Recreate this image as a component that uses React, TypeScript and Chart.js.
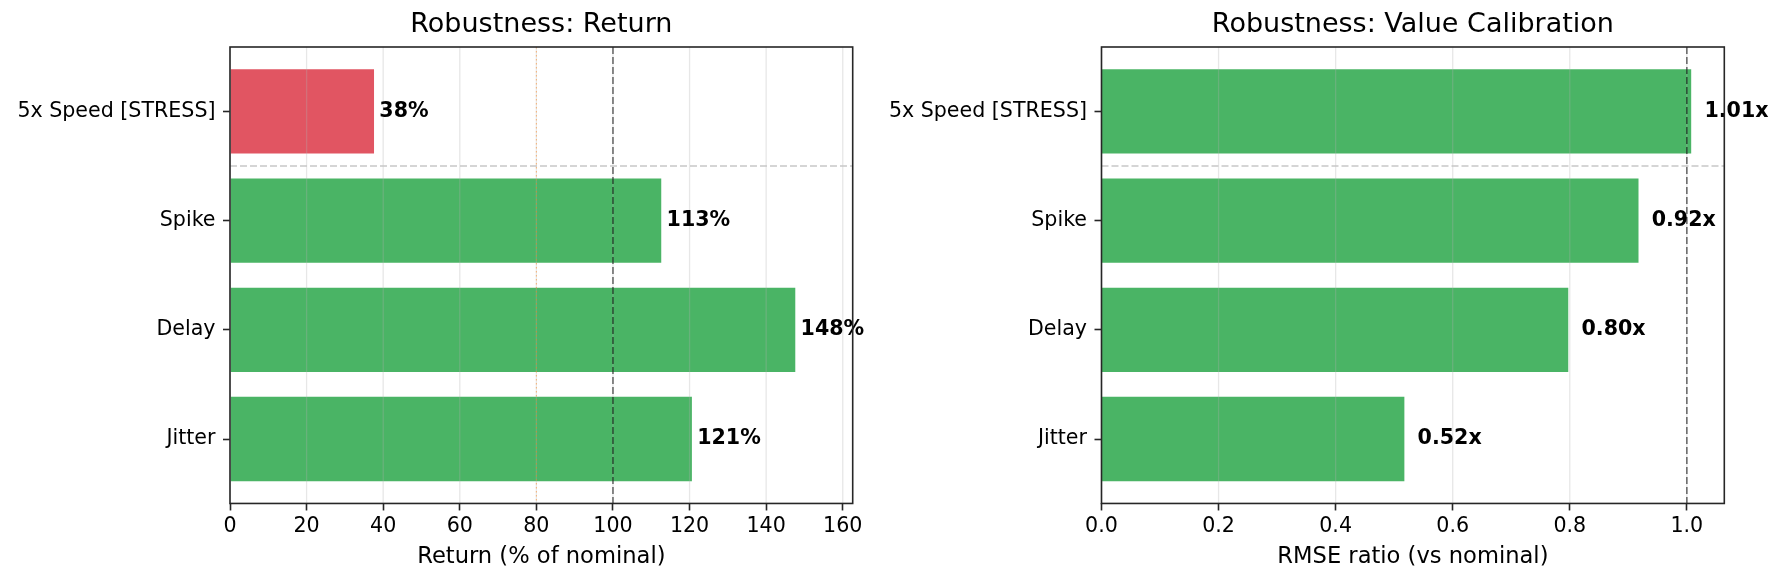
import { useEffect, useRef } from "react";
import { Chart, registerables } from "chart.js";

Chart.register(...registerables);
Chart.defaults.font.family = "'DejaVu Sans', sans-serif";
Chart.defaults.color = "#000";

// bottom to top, same order as the y positions 0..3
const categories = ["Jitter", "Delay", "Spike", "5x Speed [STRESS]"];
const returnPct = [121, 148, 113, 38];
const rmseRatio = [0.52, 0.8, 0.92, 1.01];
const returnColors = ["#4ab465", "#4ab465", "#4ab465", "#e15562"];
const rmseColors = ["#4ab465", "#4ab465", "#4ab465", "#4ab465"];
const returnTicks = [0, 20, 40, 60, 80, 100, 120, 140, 160];
const rmseTicks = [0, 0.2, 0.4, 0.6, 0.8, 1.0];

type RefLine = { value: number; color: string; width: number; dash: number[] };

type PanelProps = {
  left: number;
  width: number;
  axisWidth: number;
  padRight: number;
  title: string;
  xLabel: string;
  values: number[];
  colors: string[];
  xMax: number;
  xTicks: number[];
  tickFormat: (v: number) => string;
  labelFormat: (v: number) => string;
  labelOffset: number;
  refLines: RefLine[];
};

const FRAME = "#262626";

function overlay(p: PanelProps) {
  return {
    id: "overlay",
    afterDatasetsDraw(chart: any) {
      const { ctx, chartArea: a, scales } = chart;
      const xs = scales.x;
      const ys = scales.y;
      ctx.save();

      // grid lines sit over the bars
      ctx.strokeStyle = "rgba(176,176,176,0.3)";
      ctx.lineWidth = 1.3;
      for (const t of xs.ticks) {
        const px = xs.getPixelForValue(t.value);
        ctx.beginPath();
        ctx.moveTo(px, a.top);
        ctx.lineTo(px, a.bottom);
        ctx.stroke();
      }

      // separator between stress case and the rest
      const sy = ys.getPixelForValue(2.5);
      ctx.strokeStyle = "#c8c8c8";
      ctx.lineWidth = 1.5;
      ctx.setLineDash([7, 3]);
      ctx.beginPath();
      ctx.moveTo(a.left, sy);
      ctx.lineTo(a.right, sy);
      ctx.stroke();

      for (const r of p.refLines) {
        const px = xs.getPixelForValue(r.value);
        ctx.strokeStyle = r.color;
        ctx.lineWidth = r.width;
        ctx.setLineDash(r.dash);
        ctx.beginPath();
        ctx.moveTo(px, a.top);
        ctx.lineTo(px, a.bottom);
        ctx.stroke();
      }
      ctx.setLineDash([]);

      // value labels
      ctx.fillStyle = "#000";
      ctx.font = "bold 20.6px 'DejaVu Sans'";
      ctx.textAlign = "left";
      ctx.textBaseline = "middle";
      p.values.forEach((v, i) => {
        ctx.fillText(
          p.labelFormat(v),
          xs.getPixelForValue(v + p.labelOffset),
          ys.getPixelForValue(i)
        );
      });

      // axes frame
      ctx.strokeStyle = FRAME;
      ctx.lineWidth = 1.6;
      ctx.strokeRect(a.left, a.top, a.right - a.left, a.bottom - a.top);
      ctx.restore();
    },
  };
}

function BarPanel(p: PanelProps) {
  const canvasRef = useRef<HTMLCanvasElement | null>(null);

  useEffect(() => {
    if (!canvasRef.current) return;
    const chart = new Chart(canvasRef.current, {
      type: "bar",
      data: {
        datasets: [
          {
            data: p.values.map((v, i) => ({ x: v, y: i })),
            backgroundColor: p.colors,
            borderColor: "rgba(255,255,255,0.9)",
            borderWidth: 1.5,
            barPercentage: 0.8,
            categoryPercentage: 1,
          },
        ],
      },
      options: {
        indexAxis: "y",
        animation: false,
        responsive: true,
        maintainAspectRatio: false,
        layout: { padding: { left: 0, right: p.padRight, top: 0, bottom: 8.2 } },
        plugins: {
          legend: { display: false },
          tooltip: { enabled: false },
          title: {
            display: true,
            text: p.title,
            fullSize: false,
            color: "#000",
            font: { size: 27, weight: "normal" },
            padding: { top: 8.8, bottom: 5.8 },
          },
        },
        scales: {
          x: {
            type: "linear",
            min: 0,
            max: p.xMax,
            afterBuildTicks: (s: any) => {
              s.ticks = p.xTicks.map((v) => ({ value: v }));
            },
            ticks: {
              font: { size: 20.6 },
              padding: 3.5,
              maxRotation: 0,
              callback: (v: any) => p.tickFormat(Number(v)),
            },
            grid: {
              drawOnChartArea: false,
              drawTicks: true,
              tickLength: 7,
              tickWidth: 1.6,
              tickColor: FRAME,
            },
            border: { display: false },
            title: {
              display: true,
              text: p.xLabel,
              color: "#000",
              font: { size: 22.6 },
              padding: { top: 1.5, bottom: 4 },
            },
          },
          y: {
            type: "linear",
            min: -0.59,
            max: 3.59,
            offset: false,
            afterBuildTicks: (s: any) => {
              s.ticks = categories.map((_, i) => ({ value: i }));
            },
            afterFit: (s: any) => {
              s.width = p.axisWidth;
            },
            ticks: {
              font: { size: 20.6 },
              padding: 7.5,
              callback: (v: any) => categories[Number(v)] ?? "",
            },
            grid: {
              offset: false,
              drawOnChartArea: false,
              drawTicks: true,
              tickLength: 7,
              tickWidth: 1.6,
              tickColor: FRAME,
            },
            border: { display: false },
          },
        },
      } as any,
      plugins: [overlay(p)],
    });
    return () => {
      chart.destroy();
    };
  }, []);

  return (
    <div
      style={{
        position: "absolute",
        left: p.left,
        top: 0,
        width: p.width,
        height: 583,
      }}
    >
      <canvas ref={canvasRef} />
    </div>
  );
}

export default function App() {
  return (
    <div
      style={{
        position: "absolute",
        left: 0,
        top: 0,
        width: 1785,
        height: 583,
        background: "#fff",
      }}
    >
      <BarPanel
        left={0}
        width={880}
        axisWidth={230}
        padRight={27.3}
        title="Robustness: Return"
        xLabel="Return (% of nominal)"
        values={returnPct}
        colors={returnColors}
        xMax={162.6}
        xTicks={returnTicks}
        tickFormat={(v) => String(v)}
        labelFormat={(v) => `${v}%`}
        labelOffset={1}
        refLines={[
          { value: 80, color: "rgba(255,127,14,0.55)", width: 1, dash: [1.5, 2.5] },
          { value: 100, color: "rgba(0,0,0,0.55)", width: 1.6, dash: [7, 3] },
        ]}
      />
      <BarPanel
        left={880}
        width={905}
        axisWidth={221.5}
        padRight={60.7}
        title="Robustness: Value Calibration"
        xLabel="RMSE ratio (vs nominal)"
        values={rmseRatio}
        colors={rmseColors}
        xMax={1.064}
        xTicks={rmseTicks}
        tickFormat={(v) => v.toFixed(1)}
        labelFormat={(v) => `${v.toFixed(2)}x`}
        labelOffset={0.02}
        refLines={[{ value: 1.0, color: "rgba(0,0,0,0.55)", width: 1.6, dash: [7, 3] }]}
      />
    </div>
  );
}
